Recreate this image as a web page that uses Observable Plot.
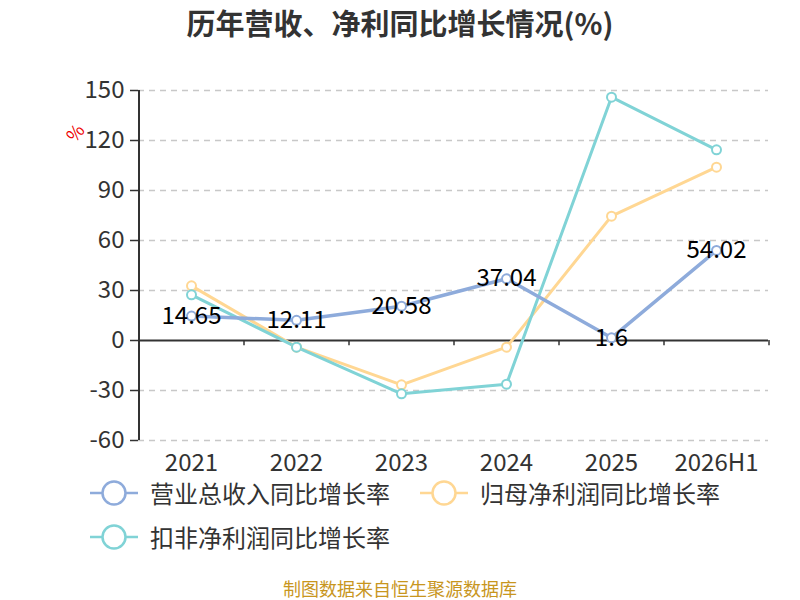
<!DOCTYPE html>
<html>
<head>
<meta charset="utf-8">
<script src="https://cdn.jsdelivr.net/npm/d3@7"></script>
<script src="https://cdn.jsdelivr.net/npm/@observablehq/plot@0.6"></script>
<style>
  html, body { margin: 0; padding: 0; background: #fff; }
  body { width: 800px; height: 600px; position: relative; overflow: hidden; font-family: "Noto Sans CJK SC", "Noto Sans", sans-serif; }
  #title { position: absolute; top: 1px; left: 0; width: 800px; text-align: center; font-size: 29px; font-weight: bold; color: #333; }
  #chart { position: absolute; top: 0; left: 0; }
  #unit { position: absolute; left: 66px; top: 119px; color: #e00; font-size: 18px; transform: rotate(-50deg); }
  .legend { position: absolute; display: flex; align-items: center; font-size: 24px; line-height: 1; color: #333; }
  .legend svg { margin-right: 10px; }
  #footer { position: absolute; top: 579px; left: 0; width: 800px; text-align: center; font-size: 18px; line-height: 1.1; color: #c8961e; }
</style>
</head>
<body>
<div id="chart"></div>
<div id="title">历年营收、净利同比增长情况(%)</div>
<div id="unit">%</div>
<div id="legend"></div>
<div id="footer">制图数据来自恒生聚源数据库</div>
<script>
const years = ["2021", "2022", "2023", "2024", "2025", "2026H1"];
const revenueGrowth = [14.65, 12.11, 20.58, 37.04, 1.6, 54.02];
const netProfitGrowth = [32.8, -4.0, -26.6, -4.0, 74.6, 104.0];
const deductedProfitGrowth = [27.4, -4.0, -32.0, -26.2, 146.0, 114.4];
const yTicks = [-60, -30, 0, 30, 60, 90, 120, 150];
const seriesNames = ["营业总收入同比增长率", "归母净利润同比增长率", "扣非净利润同比增长率"];
const colors = ["#8eabdb", "#ffd793", "#80d3d6"];

const rows = (vals) => years.map((y, i) => ({year: y, value: vals[i]}));
const rev = rows(revenueGrowth), np = rows(netProfitGrowth), dp = rows(deductedProfitGrowth);

const W = 800, H = 480;
const mL = 138, mR = 32, mT = 90, mB = 40;
const step = (W - mL - mR) / years.length;

const chart = Plot.plot({
  width: W, height: H,
  marginLeft: mL, marginRight: mR, marginTop: mT, marginBottom: mB,
  style: {fontFamily: "'Noto Sans CJK SC', 'Noto Sans', sans-serif", background: "transparent", overflow: "visible"},
  x: {type: "point", domain: years, padding: 0.5, label: null},
  y: {domain: [-60, 150], ticks: yTicks, label: null},
  marks: [
    Plot.gridY(yTicks.filter(t => t !== 0), {stroke: "#c8c8c8", strokeOpacity: 1, strokeDasharray: "6,5", strokeWidth: 1.5}),
    Plot.axisY(yTicks, {tickSize: 8, tickPadding: 6, fontSize: 24, fill: "#333", stroke: "#333", strokeWidth: 1.5, label: null, tickFormat: d => String(d)}),
    Plot.axisX({tickSize: 0, tickPadding: 13, fontSize: 24, fill: "#333", label: null}),
    Plot.ruleX([years[0]], {y1: -60, y2: 150, dx: -step / 2, stroke: "#333", strokeWidth: 2}),
    Plot.ruleY([0], {stroke: "#333", strokeWidth: 2}),
    Plot.ruleX(years, {y1: 0, y2: -3.2, dx: step / 2, stroke: "#333", strokeWidth: 1.5}),
    Plot.line(np, {x: "year", y: "value", stroke: colors[1], strokeWidth: 3}),
    Plot.line(dp, {x: "year", y: "value", stroke: colors[2], strokeWidth: 3}),
    Plot.line(rev, {x: "year", y: "value", stroke: colors[0], strokeWidth: 3.5}),
    Plot.dot(np, {x: "year", y: "value", r: 4.5, fill: "white", stroke: colors[1], strokeWidth: 2}),
    Plot.dot(dp, {x: "year", y: "value", r: 4.5, fill: "white", stroke: colors[2], strokeWidth: 2}),
    Plot.dot(rev, {x: "year", y: "value", r: 4.5, fill: "white", stroke: colors[0], strokeWidth: 2}),
    Plot.text(rev, {x: "year", y: "value", text: d => String(d.value), fontSize: 24, fill: "#000", stroke: null})
  ]
});
document.getElementById("chart").appendChild(chart);

// legend
const legendPos = [[88, 475], [418, 475], [88, 519]];
const legendDiv = document.getElementById("legend");
seriesNames.forEach((name, i) => {
  const item = document.createElement("div");
  item.className = "legend";
  item.style.left = legendPos[i][0] + "px";
  item.style.top = legendPos[i][1] + "px";
  item.innerHTML = `<svg width="52" height="36"><line x1="2" x2="50" y1="18" y2="18" stroke="${colors[i]}" stroke-width="2.5"/><circle cx="26" cy="18" r="11.5" fill="white" stroke="${colors[i]}" stroke-width="2.5"/></svg><span>${name}</span>`;
  legendDiv.appendChild(item);
});
</script>
</body>
</html>
